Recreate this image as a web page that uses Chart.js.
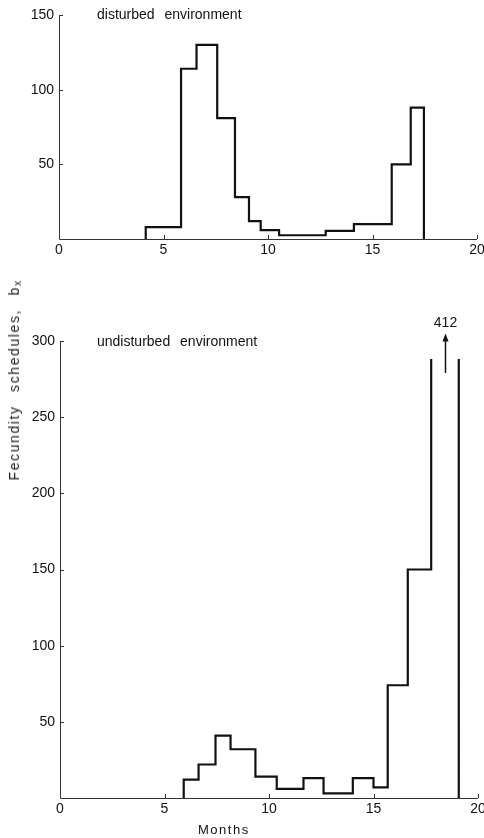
<!DOCTYPE html>
<html><head><meta charset="utf-8">
<script src="https://cdn.jsdelivr.net/npm/chart.js@4/dist/chart.umd.min.js"></script>
<style>
html,body{margin:0;padding:0;background:#fff;}
#wrap{position:relative;width:484px;height:838px;overflow:hidden;background:#fff;}
canvas{position:absolute;left:0;}
.t{position:absolute;font-family:"Liberation Sans",Arial,sans-serif;font-weight:normal;color:#111;white-space:nowrap;line-height:1;}
</style></head><body>
<div id="wrap">
<canvas id="c1" width="484" height="260" style="top:0;width:484px;height:260px"></canvas>
<canvas id="c2" width="484" height="578" style="top:260px;width:484px;height:578px"></canvas>
<div class="t" id="lab1" style="left:97px;top:7px;font-size:14px;word-spacing:6px;">disturbed environment</div>
<div class="t" id="lab2" style="left:97px;top:334px;font-size:14px;word-spacing:6px;">undisturbed environment</div>
<div class="t" id="xtitle" style="left:198px;top:823px;font-size:13px;letter-spacing:1.5px;">Months</div>
<div class="t" id="ytitle" style="left:15px;top:380px;font-size:14px;letter-spacing:1.6px;word-spacing:8px;color:#222;transform:translate(-50%,-50%) rotate(-90deg);">Fecundity schedules, b<sub style="font-size:10px;vertical-align:-2px;">x</sub></div>
</div>
<script>
// ---- data ----
const disturbedEdges = [4.15, 5.84, 6.58, 7.57, 8.42, 9.09, 9.65, 10.53, 12.76, 14.11, 15.92, 16.83, 17.46];
const disturbedValues = [8, 114, 130, 81, 28, 12, 6, 2.5, 5.5, 10, 50, 88];
const undisturbedEdges = [5.92, 6.63, 7.44, 8.16, 9.35, 10.37, 11.65, 12.61, 14.01, 15.0, 15.68, 16.64, 17.76, 19.08];
const undisturbedValues = [12, 22, 41, 32, 14, 6, 13, 3, 13, 7, 74, 150, 412];
const xTicks = [0, 5, 10, 15, 20];
const disturbedYTicks = [50, 100, 150];
const undisturbedYTicks = [50, 100, 150, 200, 250, 300];
const offscaleLabel = "412";

function stepPoints(edges, values) {
  const pts = [{x: edges[0], y: 0}];
  for (let i = 0; i < values.length; i++) pts.push({x: edges[i], y: values[i]});
  pts.push({x: edges[edges.length - 1], y: 0});
  return pts;
}

const FONT = {family: '"Liberation Sans", Arial, sans-serif', size: 14};

const inwardTicks = {
  id: 'inwardTicks',
  afterDraw(chart, args, opts) {
    const ctx = chart.ctx, xs = chart.scales.x, ys = chart.scales.y;
    const a = chart.chartArea;
    ctx.save();
    ctx.strokeStyle = '#333';
    ctx.lineWidth = 1;
    ctx.beginPath();
    ctx.moveTo(a.left + 0.5, a.top); ctx.lineTo(a.left + 0.5, a.bottom + 0.5);
    ctx.lineTo(a.right, a.bottom + 0.5);
    xTicks.forEach(v => {
      if (v === 0) return;
      const px = Math.round(xs.getPixelForValue(v)) + 0.5;
      ctx.moveTo(px, a.bottom); ctx.lineTo(px, a.bottom - 4);
    });
    opts.yTicks.forEach(v => {
      const py = Math.round(ys.getPixelForValue(v)) + 0.5;
      ctx.moveTo(a.left, py); ctx.lineTo(a.left + 4, py);
    });
    ctx.stroke();
    if (opts.arrow) {
      const px = Math.round(xs.getPixelForValue(opts.arrow.x)) + 0.5;
      const y0 = ys.getPixelForValue(279), y1 = ys.getPixelForValue(305);
      ctx.strokeStyle = '#111'; ctx.fillStyle = '#111'; ctx.lineWidth = 1.5;
      ctx.beginPath(); ctx.moveTo(px, y0); ctx.lineTo(px, y1 + 6); ctx.stroke();
      ctx.beginPath(); ctx.moveTo(px, y1); ctx.lineTo(px - 3, y1 + 8); ctx.lineTo(px + 3, y1 + 8); ctx.closePath(); ctx.fill();
      ctx.font = '14px "Liberation Sans", Arial, sans-serif';
      ctx.textAlign = 'center'; ctx.textBaseline = 'middle';
      ctx.fillText(opts.arrow.label, px, ys.getPixelForValue(312));
    }
    ctx.restore();
  }
};

function makeChart(id, edges, values, yMax, yTicks, widthY, heightX, padTop, padRight, clipTop, arrow) {
  return new Chart(document.getElementById(id), {
    type: 'line',
    data: {datasets: [{
      data: stepPoints(edges, values),
      stepped: true,
      borderColor: '#111',
      borderWidth: 2.2,
      pointRadius: 0,
      fill: false,
      clip: {left: 5, right: 5, bottom: 5, top: clipTop}
    }]},
    options: {
      responsive: false,
      animation: false,
      events: [],
      layout: {padding: {left: 0, right: padRight, top: padTop, bottom: 0}},
      plugins: {legend: {display: false}, tooltip: {enabled: false}, inwardTicks: {yTicks: yTicks, arrow: arrow}},
      scales: {
        x: {
          type: 'linear', min: 0, max: 20,
          afterBuildTicks: s => { s.ticks = xTicks.map(v => ({value: v})); },
          afterFit: s => { s.height = heightX; s.paddingRight = 0; s.paddingLeft = 0; },
          grid: {display: false, drawTicks: false},
          border: {display: false},
          ticks: {color: '#111', font: FONT, padding: 3, maxRotation: 0}
        },
        y: {
          type: 'linear', min: 0, max: yMax,
          afterBuildTicks: s => { s.ticks = yTicks.map(v => ({value: v})); },
          afterFit: s => { s.width = widthY; s.paddingTop = 0; s.paddingBottom = 0; },
          grid: {display: false, drawTicks: false},
          border: {display: false},
          ticks: {color: '#111', font: FONT, padding: 5}
        }
      }
    },
    plugins: [inwardTicks]
  });
}

makeChart('c1', disturbedEdges, disturbedValues, 150, disturbedYTicks, 59, 21, 15, 7, 5, null);
const lastI = undisturbedValues.length - 1;
makeChart('c2', undisturbedEdges, undisturbedValues, 300, undisturbedYTicks, 60, 40, 81, 6, -18,
  {x: (undisturbedEdges[lastI] + undisturbedEdges[lastI + 1]) / 2, label: offscaleLabel});
</script>
</body></html>
